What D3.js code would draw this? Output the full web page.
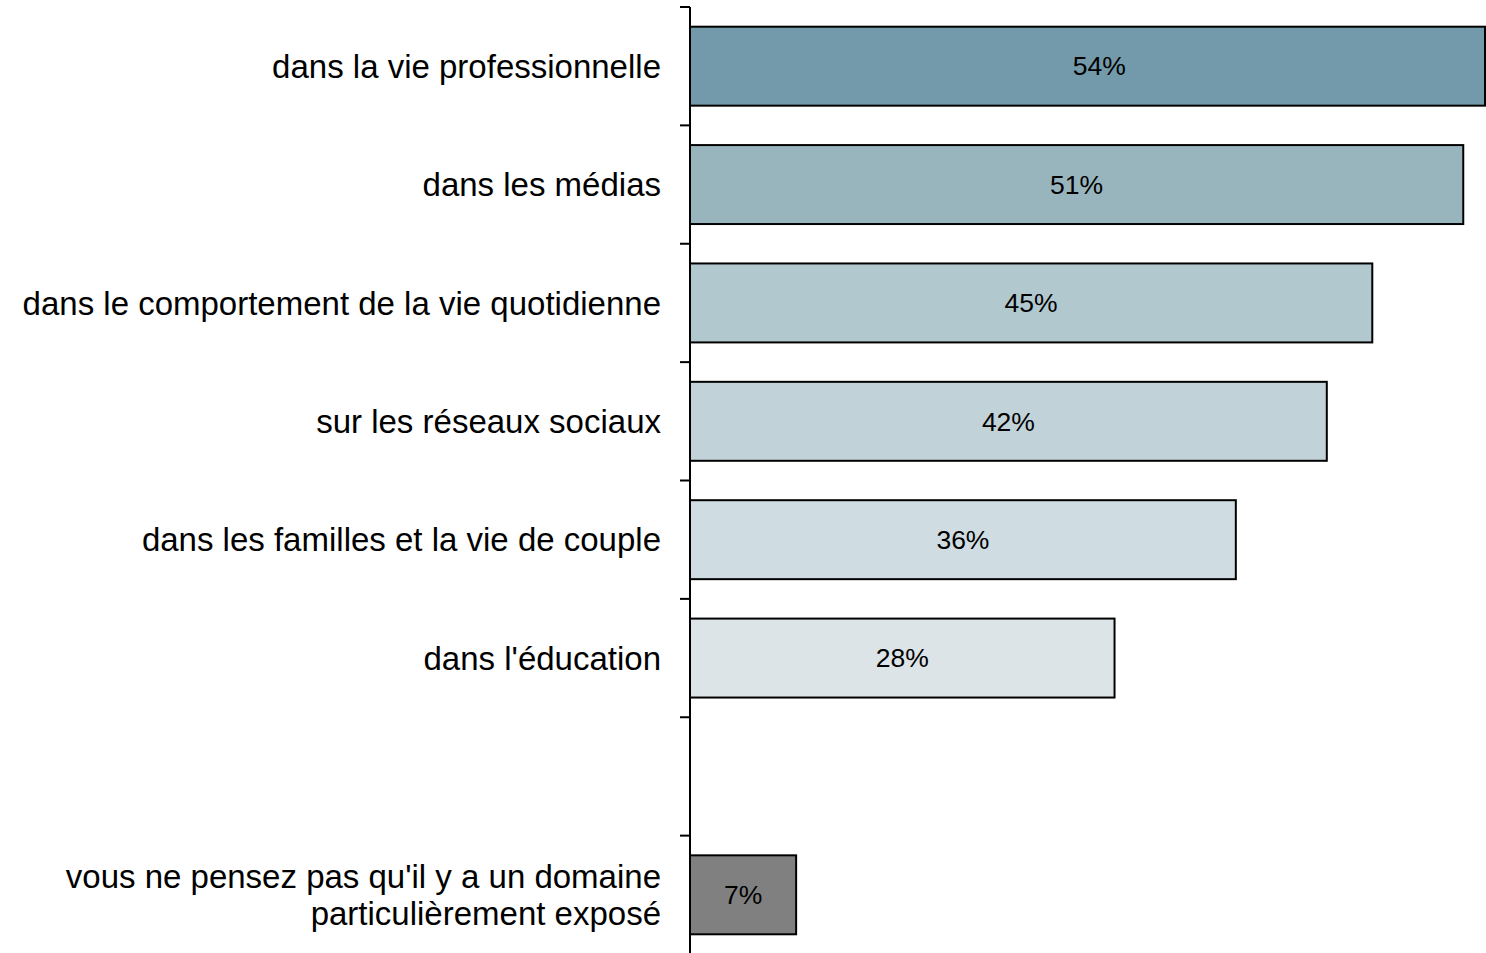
<!DOCTYPE html>
<html>
<head>
<meta charset="utf-8">
<script src="https://cdn.jsdelivr.net/npm/d3@7"></script>
<style>
  body { margin: 0; background: #fff; overflow: hidden; }
  text { font-family: "Liberation Sans", Arial, sans-serif; }
</style>
</head>
<body>
<div id="chart"></div>
<script>
// categories, top to bottom ("" is the empty gap row)
var categories = [
  "dans la vie professionnelle",
  "dans les médias",
  "dans le comportement de la vie quotidienne",
  "sur les réseaux sociaux",
  "dans les familles et la vie de couple",
  "dans l'éducation",
  "",
  "vous ne pensez pas qu'il y a un domaine|particulièrement exposé"
];
var values = [54, 51, 45, 42, 36, 28, null, 7];
var colors = ["#739aaa", "#98b5be", "#b2c8cf", "#c1d3d9", "#cfdde2", "#dce4e8", null, "#808080"];

// set the dimensions and margins of the graph
var margin = {top: 7, right: 0, bottom: 0, left: 690},
    width = 1486 - margin.left - margin.right,
    height = 947;

var svg = d3.select("#chart")
  .append("svg")
    .attr("width", 1486)
    .attr("height", 953)
  .append("g")
    .attr("transform", "translate(" + margin.left + "," + margin.top + ")");

// X scale (the top bar runs past the right edge)
var x = d3.scaleLinear()
  .domain([0, 52.5])
  .range([0, width]);

// Y scale
var y = d3.scaleBand()
  .domain(categories.map(function(d, i) { return i; }))
  .range([0, height])
  .paddingInner(0.333)
  .paddingOuter(0.1665);

var rows = categories.map(function(c, i) {
  return {label: c, value: values[i], color: colors[i], i: i};
});

// bars
svg.selectAll("rect.bar")
  .data(rows.filter(function(d) { return d.value !== null; }))
  .enter()
  .append("rect")
    .attr("class", "bar")
    .attr("x", 0)
    .attr("y", function(d) { return y(d.i); })
    .attr("width", function(d) { return Math.min(x(d.value), width - 1); })
    .attr("height", y.bandwidth())
    .attr("fill", function(d) { return d.color; })
    .attr("stroke", "#000")
    .attr("stroke-width", 2);

// value labels
svg.selectAll("text.val")
  .data(rows.filter(function(d) { return d.value !== null; }))
  .enter()
  .append("text")
    .attr("class", "val")
    .attr("x", function(d) { return x(d.value) / 2; })
    .attr("y", function(d) { return y(d.i) + y.bandwidth() / 2; })
    .attr("dy", "0.35em")
    .attr("text-anchor", "middle")
    .style("font-size", "26.5px")
    .attr("fill", "#000")
    .text(function(d) { return d.value + "%"; });

// Y axis: line + ticks at band boundaries
svg.append("line")
  .attr("x1", 0).attr("x2", 0)
  .attr("y1", 0).attr("y2", height)
  .attr("stroke", "#000")
  .attr("stroke-width", 2);

var bounds = d3.range(categories.length).map(function(i) { return i * y.step(); });
svg.selectAll("line.tick")
  .data(bounds)
  .enter()
  .append("line")
    .attr("class", "tick")
    .attr("x1", -10).attr("x2", 0)
    .attr("y1", function(d) { return d; })
    .attr("y2", function(d) { return d; })
    .attr("stroke", "#000")
    .attr("stroke-width", 2);

// category labels
var labels = svg.selectAll("text.cat")
  .data(rows.filter(function(d) { return d.label !== ""; }))
  .enter()
  .append("text")
    .attr("class", "cat")
    .attr("text-anchor", "end")
    .style("font-size", "33px")
    .attr("fill", "#000")
    .attr("transform", function(d) {
      return "translate(-29," + (y(d.i) + y.bandwidth() / 2) + ")";
    });

labels.each(function(d) {
  var parts = d.label.split("|");
  var t = d3.select(this);
  parts.forEach(function(p, k) {
    t.append("tspan")
      .attr("x", 0)
      .attr("y", (k - (parts.length - 1) / 2) * 37)
      .attr("dy", "0.35em")
      .text(p);
  });
});
</script>
</body>
</html>
